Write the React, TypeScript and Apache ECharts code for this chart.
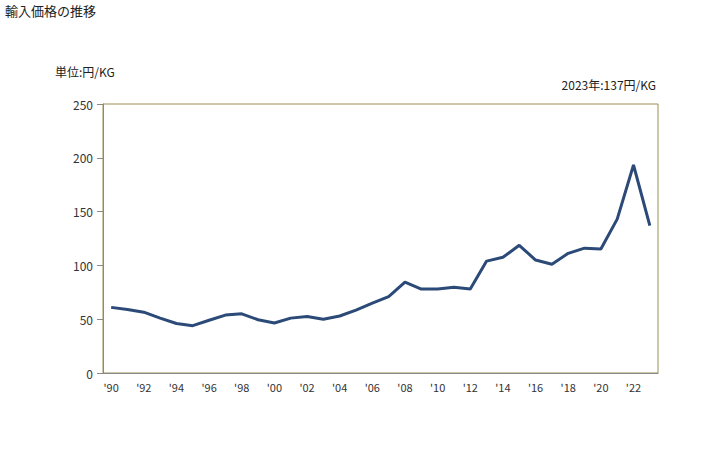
import React, { useEffect, useRef } from "react";
import * as echarts from "echarts";

const years = [
  "1990", "1991", "1992", "1993", "1994", "1995", "1996", "1997", "1998", "1999",
  "2000", "2001", "2002", "2003", "2004", "2005", "2006", "2007", "2008", "2009",
  "2010", "2011", "2012", "2013", "2014", "2015", "2016", "2017", "2018", "2019",
  "2020", "2021", "2022", "2023",
];
const prices = [
  61, 59, 56.5, 51, 46, 44, 49, 53.8, 55, 49.5,
  46.5, 51, 52.5, 50, 53, 58.5, 65, 71, 84.5, 78,
  78, 79.6, 78, 104, 107.5, 118.7, 105, 101, 111.2, 116,
  115.2, 143, 193.3, 137,
];
const yTicks = [0, 50, 100, 150, 200, 250];

const FONT = "'Noto Sans CJK JP', 'Noto Sans', sans-serif";

export default function App() {
  const ref = useRef<HTMLDivElement>(null);
  useEffect(() => {
    if (!ref.current) return;
    const chart = echarts.init(ref.current, null, { renderer: "svg" });
    chart.setOption({
      animation: false,
      backgroundColor: "#ffffff",
      graphic: [
        { type: "text", left: 5, top: 4, style: { text: "輸入価格の推移", font: `13px ${FONT}`, fill: "#222" } },
        { type: "text", left: 55, top: 65, style: { text: "単位:円/KG", font: `12px ${FONT}`, fill: "#222" } },
        { type: "text", right: 72, top: 78, style: { text: "2023年:137円/KG", font: `12px ${FONT}`, fill: "#222" } },
      ],
      grid: {
        left: 103,
        right: 70,
        top: 104,
        bottom: 77,
        show: true,
        borderColor: "#9c8f50",
        borderWidth: 1,
        backgroundColor: "transparent",
      },
      xAxis: {
        type: "category",
        data: years,
        boundaryGap: true,
        axisLine: { show: true, lineStyle: { color: "#888" } },
        axisTick: { show: false },
        axisLabel: {
          interval: 1,
          color: "#333",
          fontSize: 11,
          fontFamily: FONT,
          margin: 8,
          formatter: (v: string) => "'" + v.slice(2),
        },
        splitLine: { show: false },
      },
      yAxis: {
        type: "value",
        min: yTicks[0],
        max: yTicks[yTicks.length - 1],
        interval: 50,
        axisLine: { show: true, lineStyle: { color: "#888" } },
        axisTick: { show: true, length: 6, lineStyle: { color: "#888" } },
        axisLabel: { color: "#333", fontSize: 12, fontFamily: FONT, margin: 10 },
        splitLine: { show: false },
      },
      series: [
        {
          type: "line",
          data: prices,
          symbol: "none",
          lineStyle: { color: "#2b4a78", width: 3 },
          itemStyle: { color: "#2b4a78" },
        },
      ],
    });
    return () => chart.dispose();
  }, []);
  return <div ref={ref} style={{ width: 728, height: 450, position: "absolute", left: 0, top: 0 }} />;
}
